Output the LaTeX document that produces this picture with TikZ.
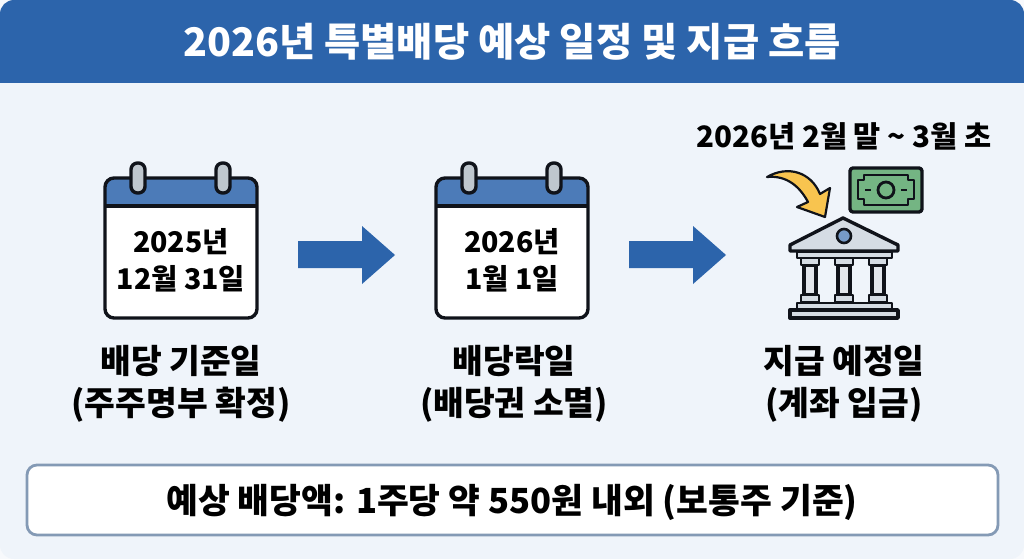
\documentclass[tikz,border=0pt]{standalone}
\usepackage{fontspec}
\setmainfont{Noto Sans CJK KR}
\definecolor{hdblue}{HTML}{2C64AB}
\definecolor{panel}{HTML}{EFF4FA}
\definecolor{outer}{HTML}{F7F9FC}
\definecolor{boxline}{HTML}{849AB5}
\definecolor{ringgray}{HTML}{BFC7CE}
\definecolor{bankgray}{HTML}{D5DCE4}
\definecolor{billgreen}{HTML}{74B583}
\definecolor{coinyellow}{HTML}{F8C44F}
\definecolor{inkk}{HTML}{10131A}
\tikzset{
  ink/.style={draw=inkk,line width=3.4pt,line join=round},
  label/.style={align=center,font=\fontsize{33.4}{41.5}\selectfont\bfseries,text=black},
  caltext/.style={align=center,font=\fontsize{28.5}{37}\selectfont\bfseries,text=black},
}
\begin{document}
\begin{tikzpicture}[x=1pt,y=-1pt]
\useasboundingbox (0,0) rectangle (1024,559);
\fill[outer] (0,0) rectangle (1024,559);
\fill[panel,rounded corners=14pt] (0,0) rectangle (1024,559);
\fill[hdblue,rounded corners=14pt] (0,0) -- (1024,0) -- (1024,83) -- (0,83) -- cycle;
\fill[hdblue] (0,40) rectangle (1024,83);
\node[text=white,font=\fontsize{39.4}{44}\selectfont\bfseries] (title) at (512,42) {2026년 특별배당 예상 일정 및 지급 흐름};

% two calendars and the arrow after each
\foreach \dx/\nm/\txt in {0/calA/{2025년\\12월 31일},331/calB/{2026년\\1월 1일}}{
  \begin{scope}[xshift=\dx]
  \fill[white,rounded corners=9pt] (105,178) rectangle (257,318);
  \fill[hdblue!85,rounded corners=9pt] (105,178) -- (257,178) -- (257,206) -- (105,206) -- cycle;
  \fill[hdblue!85] (105,195) rectangle (257,206);
  \draw[ink] (105,206) -- (257,206);
  \draw[ink,rounded corners=9pt] (105,178) rectangle (257,318);
  \foreach \rx in {138,223}
    \draw[ink,fill=ringgray,rounded corners=6.5pt] (\rx-7,163) rectangle (\rx+7,193);
  \node[caltext] (\nm) at (181,260) {\txt};
  \fill[hdblue] (298,241) -- (362,241) -- (362,226) -- (395,255) -- (362,284) -- (362,268) -- (298,268) -- cycle;
  \end{scope}
}

% bank
\draw[ink,fill=bankgray] (843,218) -- (898,245) -- (898,251) -- (790,251) -- (790,245) -- cycle;
\draw[ink,fill=hdblue!65,line width=2.6pt] (844,236) circle (7);
\draw[ink,fill=bankgray,line width=2.6pt] (797,252) rectangle (892,258);
\foreach \cx in {810,844,878}{
  \draw[ink,fill=bankgray!70] (\cx-6,265) rectangle (\cx+6,295);
  \draw[ink,fill=bankgray,line width=2.6pt] (\cx-9,258) rectangle (\cx+9,265);
  \draw[ink,fill=bankgray,line width=2.6pt] (\cx-9,295) rectangle (\cx+9,302);
}
\draw[ink,fill=bankgray,line width=2.6pt] (797,303) rectangle (892,310);
\draw[ink,fill=bankgray] (790,310) rectangle (898,318);

% bill
\draw[ink,fill=billgreen,rounded corners=3pt] (850,168) rectangle (922,212);
\draw[inkk,line width=2.8pt,line join=round] (864,175) -- (908,175) -- (908,180) -- (914,180) -- (914,199) -- (908,199) -- (908,205) -- (864,205) -- (864,199) -- (858,199) -- (858,180) -- (864,180) -- cycle;
\draw[inkk,line width=2.8pt] (886,190) circle (8);
\draw[inkk,line width=2.8pt] (865,190) -- (871,190) (901,190) -- (907,190);

% yellow arrow
\draw[ink,fill=coinyellow,line width=2.2pt] (767,177) .. controls (788,165) and (811,172) .. (820,194) -- (830,188) -- (825,217) -- (797,207) -- (808,202) .. controls (800,187) and (787,175) .. cycle;

\node[font=\fontsize{29.5}{32}\selectfont\bfseries,text=black] (when) at (844,136) {2026년 2월 말 \textasciitilde{} 3월 초};
\node[label] (lblA) at (181,384) {배당 기준일\\(주주명부 확정)};
\node[label] (lblB) at (514,384) {배당락일\\(배당권 소멸)};
\node[label] (lblC) at (844,384) {지급 예정일\\(계좌 입금)};

\node[draw=boxline,line width=2.8pt,fill=white,rounded corners=10pt,minimum width=971pt,minimum height=70pt] (notebox) at (512.5,500) {};
\node[font=\fontsize{34.6}{38}\selectfont\bfseries,text=black] (note) at (512,502.5) {예상 배당액: 1주당 약 550원 내외 (보통주 기준)};
\end{tikzpicture}
\end{document}
